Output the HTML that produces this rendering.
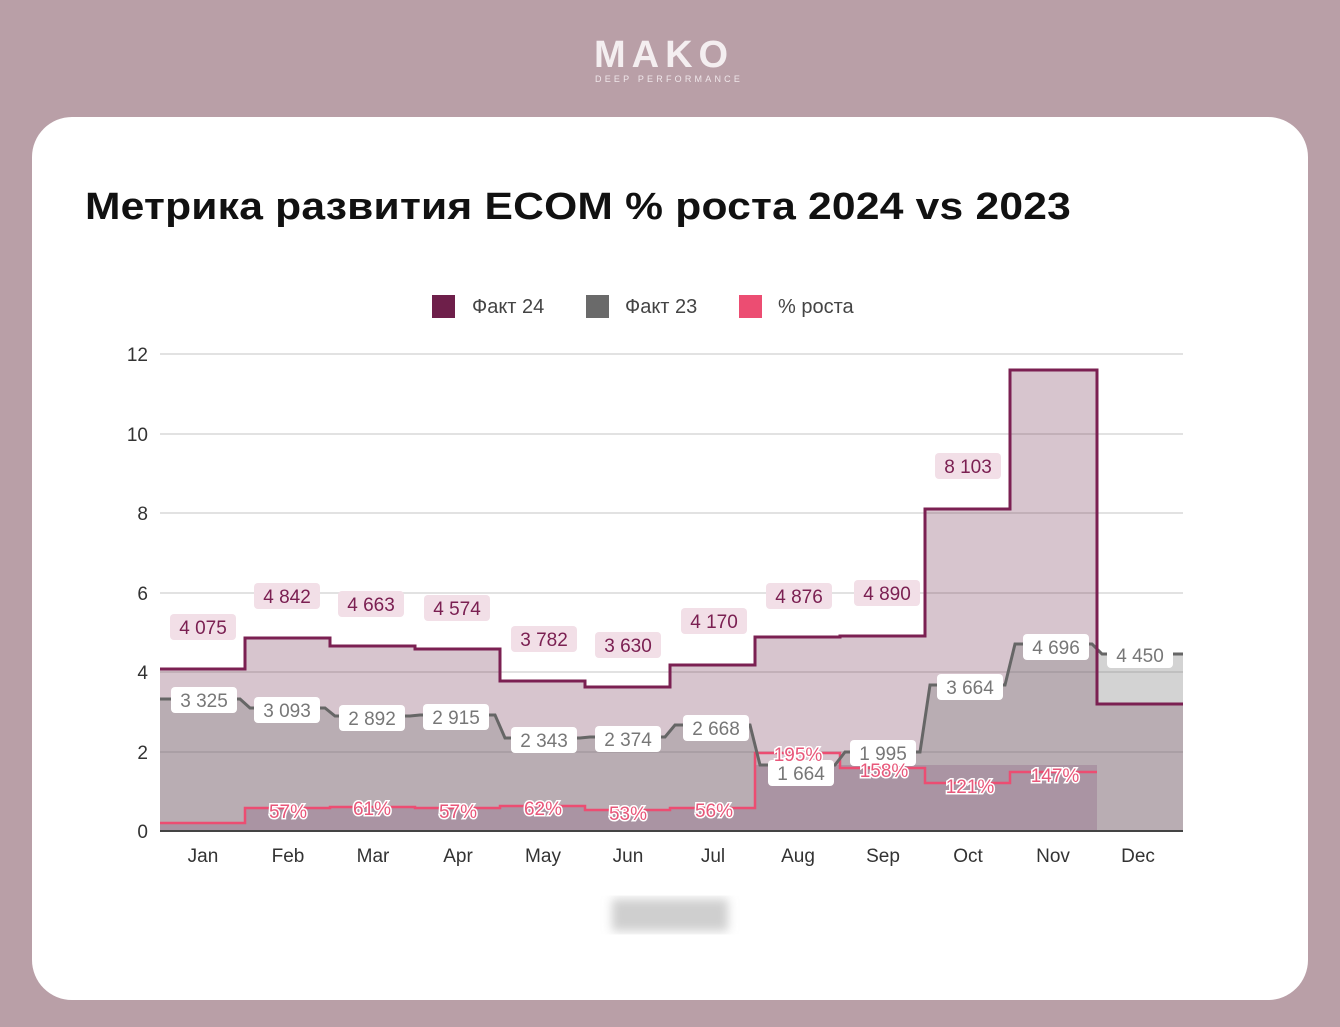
<!DOCTYPE html>
<html><head><meta charset="utf-8"><style>
html,body{margin:0;padding:0;}
body{width:1340px;height:1027px;background:#b99fa7;position:relative;overflow:hidden;font-family:"Liberation Sans",sans-serif;}
.card{position:absolute;left:32px;top:117px;width:1276px;height:883px;background:#fff;border-radius:40px;}
.logo{position:absolute;left:594px;top:36px;color:#f4eef0;font-weight:bold;font-size:38px;letter-spacing:6px;line-height:38px;}
.sub{position:absolute;left:595px;top:74px;color:#efe6ea;font-size:9px;letter-spacing:3.2px;}
h1{position:absolute;left:85px;top:186px;margin:0;font-size:38px;font-weight:bold;color:#111;letter-spacing:0.2px;transform:scaleX(1.12);transform-origin:0 0;white-space:nowrap;}
svg{position:absolute;left:0;top:0;}
</style></head><body>
<div class="logo">MAKO</div><div class="sub">DEEP PERFORMANCE</div>
<div class="card"></div>
<h1>Метрика развития ECOM % роста 2024 vs 2023</h1>
<svg width="1340" height="1027" font-family="Liberation Sans, sans-serif">
<defs><filter id="b"><feGaussianBlur stdDeviation="5"/></filter></defs>
<rect x="432" y="295" width="23" height="23" fill="#6e1f4a"/><text x="472" y="313" font-size="20" fill="#444">Факт 24</text>
<rect x="586" y="295" width="23" height="23" fill="#6a6a6a"/><text x="625" y="313" font-size="20" fill="#444">Факт 23</text>
<rect x="739" y="295" width="23" height="23" fill="#ec4d72"/><text x="778" y="313" font-size="20" fill="#444">% роста</text>
<g stroke="#d8d8d8" stroke-width="1.5">
<line x1="160" y1="354" x2="1183" y2="354"/><line x1="160" y1="434" x2="1183" y2="434"/><line x1="160" y1="513" x2="1183" y2="513"/><line x1="160" y1="593" x2="1183" y2="593"/><line x1="160" y1="672" x2="1183" y2="672"/><line x1="160" y1="752" x2="1183" y2="752"/></g>
<g font-size="19" fill="#333" text-anchor="end"><text x="148" y="361">12</text><text x="148" y="441">10</text><text x="148" y="520">8</text><text x="148" y="600">6</text><text x="148" y="679">4</text><text x="148" y="759">2</text><text x="148" y="838">0</text></g>
<path d="M160 831 V669 H245 V638 H330 V646 H415 V649 H500 V681 H585 V687 H670 V665 H755 V637 H840 V636 H925 V509 H1010 V370 H1097 V704 H1183 V831 Z" fill="rgba(110,45,80,0.28)"/>
<path d="M160 831 V699 H240 L250 708 H325 L335 716 H410 L420 715 H495 L505 738 H580 L590 737 H665 L675 725 H750 L760 765 H835 L845 752 H920 L930 685 H1005 L1015 644 H1092 L1102 654 H1183 V831 Z" fill="rgba(128,128,128,0.35)"/>
<path d="M160 831 V823 H245 V808 H330 V807 H415 V808 H500 V806 H585 V810 H670 V808 H755 V765 H1097 V831 Z" fill="rgba(120,60,110,0.22)"/>
<path d="M160 823 H245 V808 H330 V807 H415 V808 H500 V806 H585 V810 H670 V808 H755 V753 H840 V768 H925 V783 H1010 V772 H1097" fill="none" stroke="#ec4d72" stroke-width="2.5"/>
<path d="M160 699 H240 L250 708 H325 L335 716 H410 L420 715 H495 L505 738 H580 L590 737 H665 L675 725 H750 L760 765 H835 L845 752 H920 L930 685 H1005 L1015 644 H1092 L1102 654 H1183" fill="none" stroke="#666" stroke-width="3"/>
<path d="M160 669 H245 V638 H330 V646 H415 V649 H500 V681 H585 V687 H670 V665 H755 V637 H840 V636 H925 V509 H1010 V370 H1097 V704 H1183" fill="none" stroke="#7b2052" stroke-width="3"/>
<line x1="160" y1="831" x2="1183" y2="831" stroke="#444" stroke-width="2"/>
<g font-size="19" fill="#333" text-anchor="middle"><text x="203" y="862">Jan</text><text x="288" y="862">Feb</text><text x="373" y="862">Mar</text><text x="458" y="862">Apr</text><text x="543" y="862">May</text><text x="628" y="862">Jun</text><text x="713" y="862">Jul</text><text x="798" y="862">Aug</text><text x="883" y="862">Sep</text><text x="968" y="862">Oct</text><text x="1053" y="862">Nov</text><text x="1138" y="862">Dec</text></g>
<g font-size="19" fill="#7b2052" text-anchor="middle">
<g fill="#f2dfe7"><rect x="170" y="614" width="66" height="26" rx="4"/><rect x="254" y="583" width="66" height="26" rx="4"/><rect x="338" y="591" width="66" height="26" rx="4"/><rect x="424" y="595" width="66" height="26" rx="4"/><rect x="511" y="626" width="66" height="26" rx="4"/><rect x="595" y="632" width="66" height="26" rx="4"/><rect x="681" y="608" width="66" height="26" rx="4"/><rect x="766" y="583" width="66" height="26" rx="4"/><rect x="854" y="580" width="66" height="26" rx="4"/><rect x="935" y="453" width="66" height="26" rx="4"/></g>
<text x="203" y="634">4 075</text><text x="287" y="603">4 842</text><text x="371" y="611">4 663</text><text x="457" y="615">4 574</text><text x="544" y="646">3 782</text><text x="628" y="652">3 630</text><text x="714" y="628">4 170</text><text x="799" y="603">4 876</text><text x="887" y="600">4 890</text><text x="968" y="473">8 103</text></g>
<g font-size="19" fill="#777" text-anchor="middle">
<g fill="#fff"><rect x="171" y="687" width="66" height="26" rx="4"/><rect x="254" y="697" width="66" height="26" rx="4"/><rect x="339" y="705" width="66" height="26" rx="4"/><rect x="423" y="704" width="66" height="26" rx="4"/><rect x="511" y="727" width="66" height="26" rx="4"/><rect x="595" y="726" width="66" height="26" rx="4"/><rect x="683" y="715" width="66" height="26" rx="4"/><rect x="768" y="760" width="66" height="26" rx="4"/><rect x="850" y="740" width="66" height="26" rx="4"/><rect x="937" y="674" width="66" height="26" rx="4"/><rect x="1023" y="634" width="66" height="26" rx="4"/><rect x="1107" y="642" width="66" height="26" rx="4"/></g>
<text x="204" y="707">3 325</text><text x="287" y="717">3 093</text><text x="372" y="725">2 892</text><text x="456" y="724">2 915</text><text x="544" y="747">2 343</text><text x="628" y="746">2 374</text><text x="716" y="735">2 668</text><text x="801" y="780">1 664</text><text x="883" y="760">1 995</text><text x="970" y="694">3 664</text><text x="1056" y="654">4 696</text><text x="1140" y="662">4 450</text></g>
<g font-size="19" fill="#e8577a" text-anchor="middle" stroke="#fff" stroke-width="3" paint-order="stroke">
<text x="288" y="818">57%</text><text x="372" y="815">61%</text><text x="458" y="818">57%</text><text x="543" y="815">62%</text><text x="628" y="820">53%</text><text x="714" y="817">56%</text><text x="798" y="761">195%</text><text x="884" y="777">158%</text><text x="970" y="793">121%</text><text x="1055" y="782">147%</text></g>
<rect x="612" y="899" width="116" height="32" fill="#cfcfcf" filter="url(#b)"/>
</svg>
</body></html>
